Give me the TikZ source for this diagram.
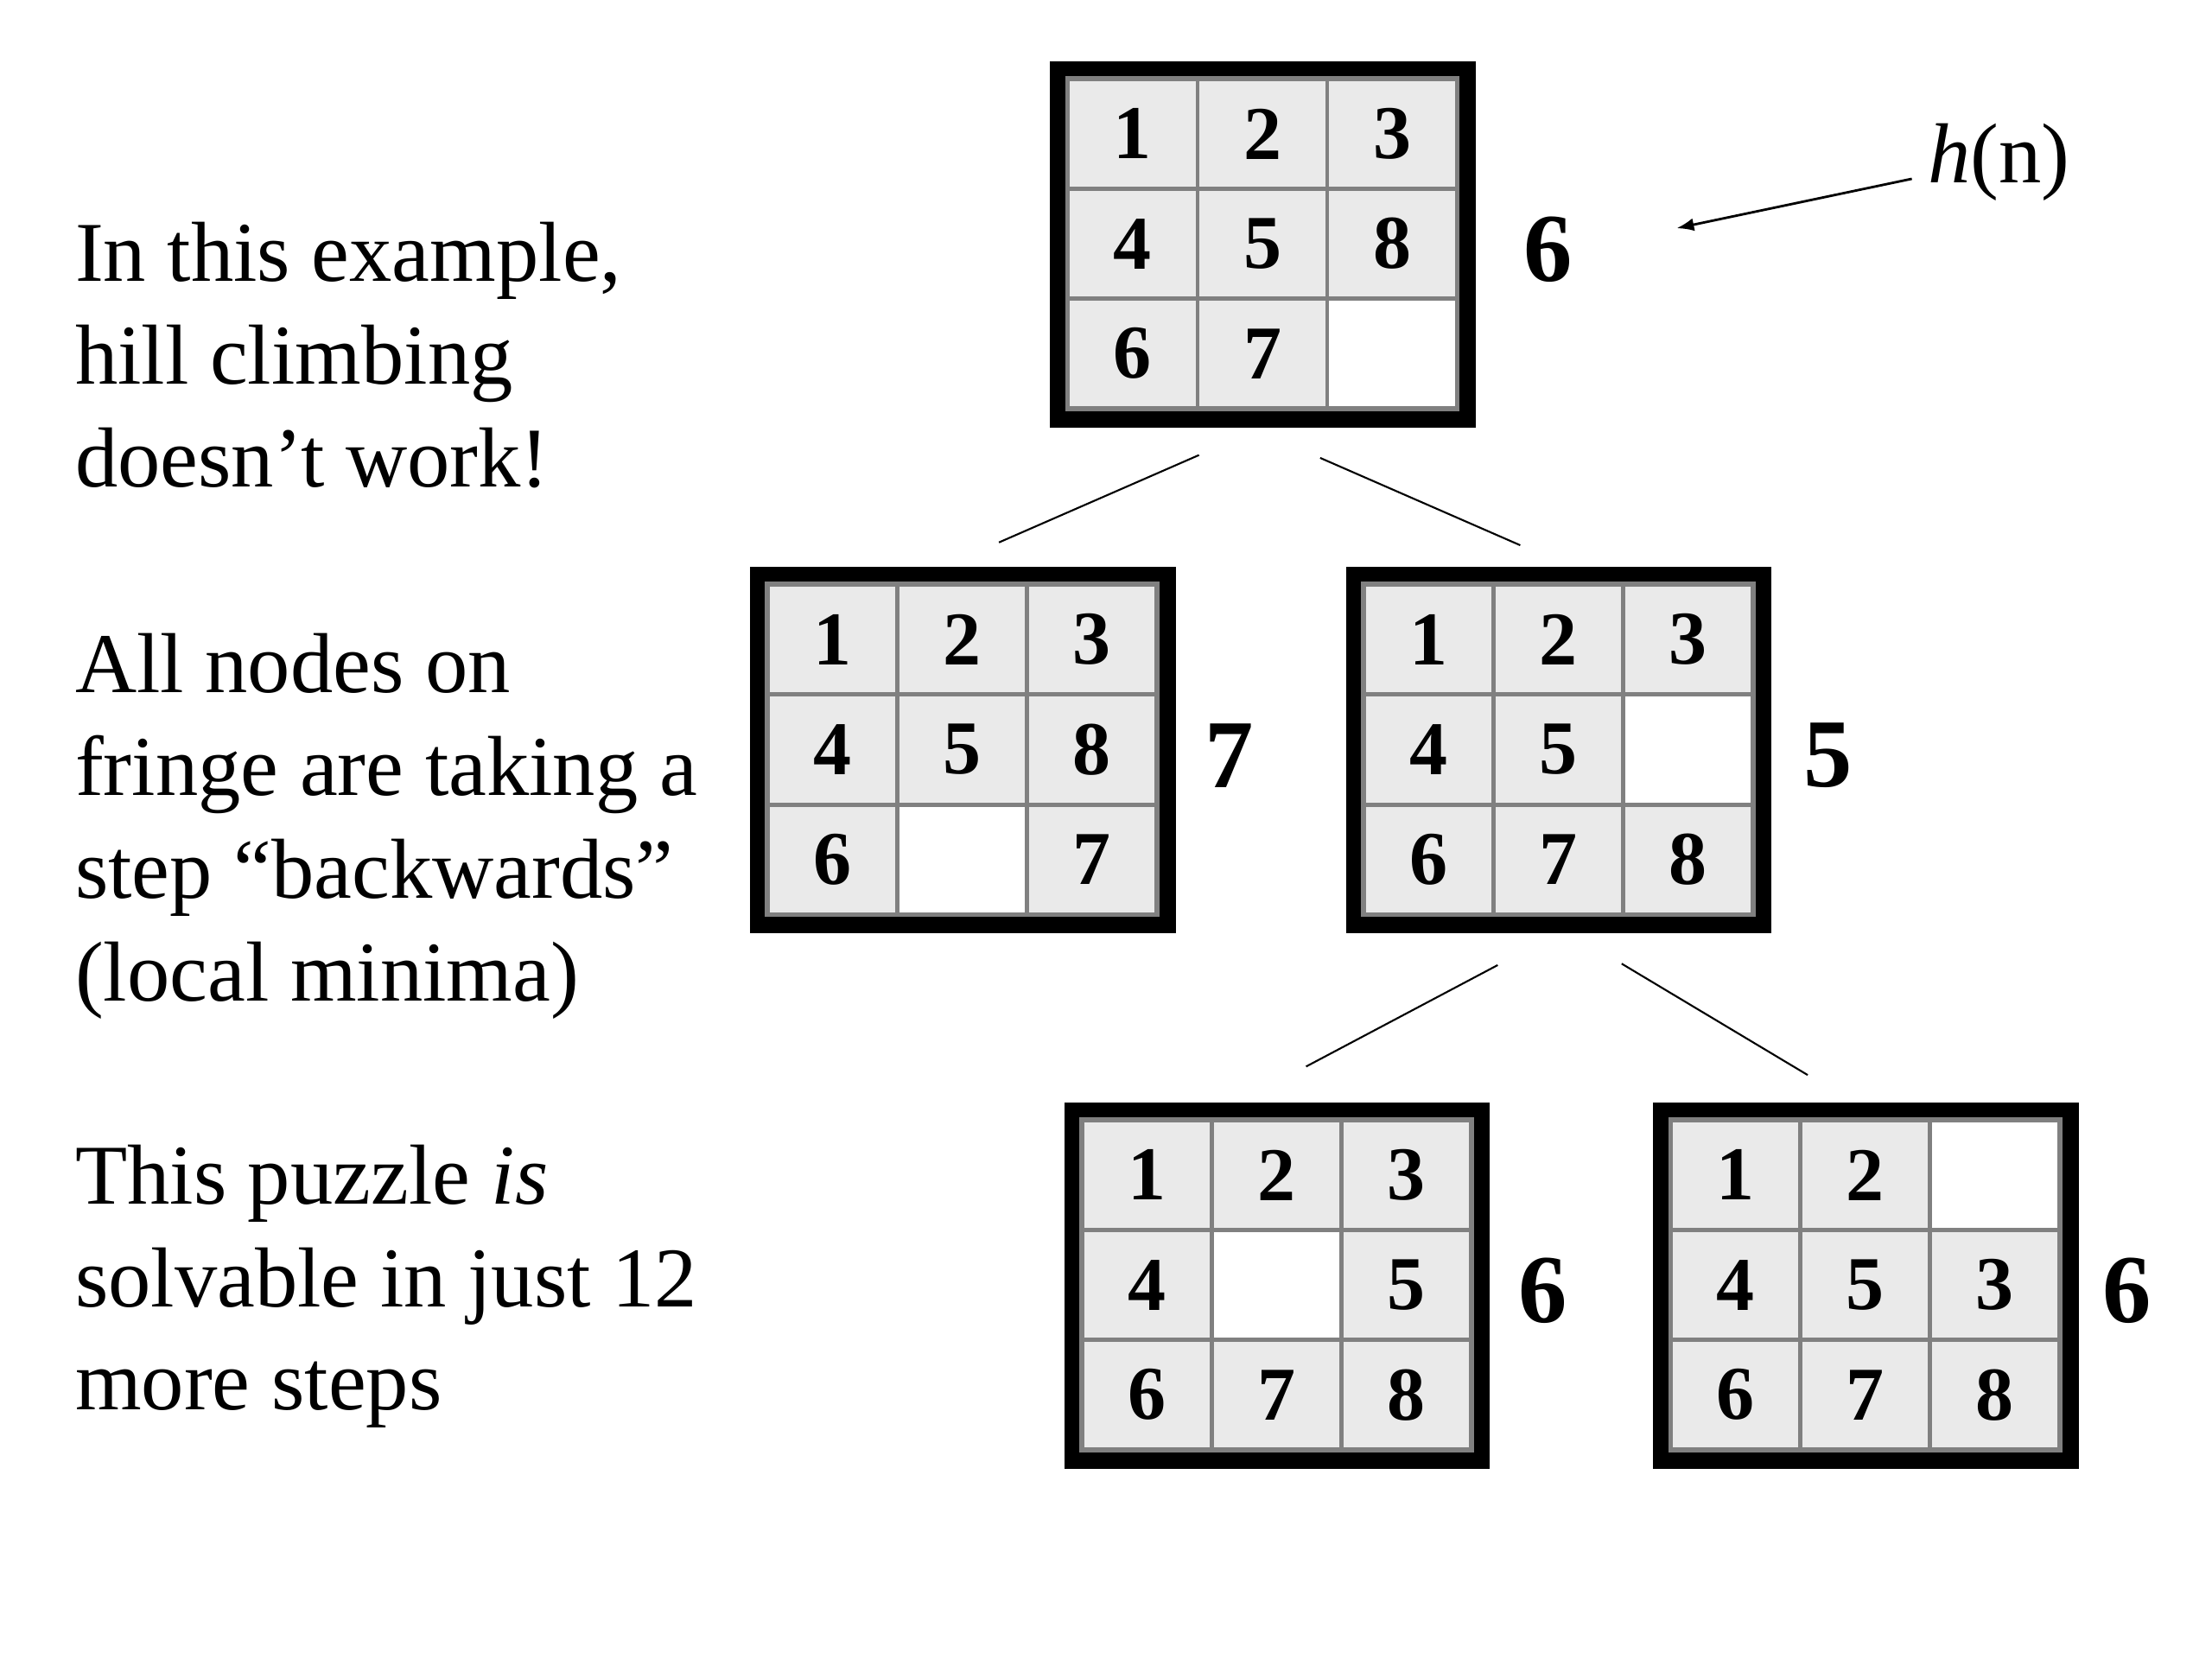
\documentclass[tikz,border=0pt]{standalone}
\usepackage{fontspec}
\setmainfont{Liberation Serif}
\usetikzlibrary{positioning,arrows.meta}

\definecolor{tilefill}{RGB}{234,234,234}
\definecolor{gridline}{RGB}{128,128,128}

\tikzset{
  frame/.style={fill=black, inner sep=0, minimum width=49.17mm, minimum height=42.33mm},
  tile/.style={fill=tilefill, inner sep=0, minimum width=14.49mm, minimum height=12.21mm,
    font=\fontsize{25}{30}\selectfont\bfseries},
  hval/.style={inner sep=0, yshift=-0.6mm, font=\fontsize{32}{38}\selectfont\bfseries},
  note/.style={inner sep=0, align=left, font=\fontsize{28}{33.8}\selectfont},
  link/.style={line width=0.6pt},
  pointer/.style={line width=0.8pt, -{Latex[length=2mm,width=1.5mm]}}
}

% #1 = board name, #2 = top-left corner, #3 = tiles row by row (0 = blank)
\newcommand{\puzzle}[3]{
  \node[frame, anchor=north west] (#1) at #2 {};
  \begin{scope}[shift={(#1.north west)}]
    \fill[gridline] (11,11) rectangle (291,249);
    \foreach \t [count=\i from 0] in {#3} {
      \pgfmathtruncatemacro{\col}{mod(\i,3)}
      \pgfmathtruncatemacro{\row}{div(\i,3)}
      \ifnum\t=0
        \node[tile, fill=white] (#1-\i) at (59+92*\col, 52+78*\row) {};
      \else
        \node[tile] (#1-\i) at (59+92*\col, 52+78*\row) {\t};
      \fi
    }
  \end{scope}
}

\begin{document}
\begin{tikzpicture}[x=0.16282mm, y=-0.16282mm]
\useasboundingbox (0,0) rectangle (1570,1177.5);

% the search tree
\puzzle{top}{(745,43)}{1,2,3,4,5,8,6,7,0}
\puzzle{left}{(532,402)}{1,2,3,4,5,8,6,0,7}
\puzzle{right}{(955,402)}{1,2,3,4,5,0,6,7,8}
\puzzle{low}{(755,782)}{1,2,3,4,0,5,6,7,8}
\puzzle{up}{(1173,782)}{1,2,0,4,5,3,6,7,8}

% heuristic values
\node[hval, right=5.4mm of top] (h-top) {6};
\node[hval, right=3.2mm of left] (h-left) {7};
\node[hval, right=3.6mm of right] (h-right) {5};
\node[hval, right=3.2mm of low] (h-low) {6};
\node[hval, right=2.6mm of up] (h-up) {6};

% tree edges
\coordinate (top-l) at (851,323);
\coordinate (top-r) at (937,325);
\coordinate (left-in) at (709,385);
\coordinate (right-in) at (1079,387);
\coordinate (right-l) at (1063,685);
\coordinate (right-r) at (1151,684);
\coordinate (low-in) at (927,757);
\coordinate (up-in) at (1283,763);
\draw[link] (top-l) -- (left-in);
\draw[link] (top-r) -- (right-in);
\draw[link] (right-l) -- (low-in);
\draw[link] (right-r) -- (up-in);

% h(n) label
\node[note, anchor=base west] (hn) at (1368,130) {\textit{h}(n)};
\coordinate (hn-tip) at (1190,162);
\draw[pointer] ([xshift=-1.8mm, yshift=0.5mm]hn.base west) -- (hn-tip);

% text on the left
\node[note, anchor=north west] (why) at (53,157) {In this example,\\hill climbing\\doesn't work!};
\node[note, anchor=north west] (fringe) at (53,449) {All nodes on\\fringe are taking a\\step ``backwards''\\(local minima)};
\node[note, anchor=north west] (solve) at (53,812) {This puzzle \textit{is}\\solvable in just 12\\more steps};
\end{tikzpicture}
\end{document}
